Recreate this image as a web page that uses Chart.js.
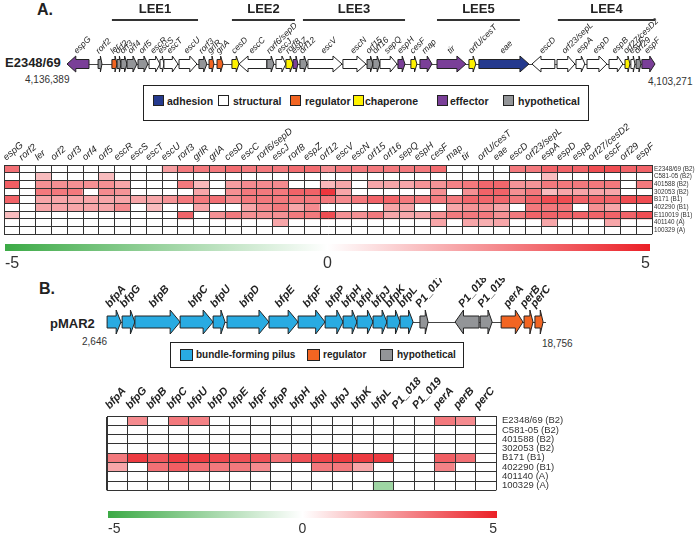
<!DOCTYPE html>
<html>
<head>
<meta charset="utf-8">
<script src="https://cdn.jsdelivr.net/npm/chart.js@4.4.0/dist/chart.umd.min.js"></script>
<style>
  body { margin: 0; width: 696px; height: 539px; position: relative; background: #fff; overflow: hidden;
         font-family: "Liberation Sans", Arial, sans-serif; color: #333; }
  canvas { position: absolute; left: 0; }
  .t { position: absolute; white-space: nowrap; }
  .b { font-weight: bold; color: #222; }
  .legend { position: absolute; border: 1.5px solid #222; box-sizing: border-box; }
  .sw { position: absolute; width: 11px; height: 11px; border: 1px solid #222; box-sizing: border-box; }
  .lt { position: absolute; font-weight: bold; color: #222; white-space: nowrap; }
</style>
</head>
<body>

<div class="t b" style="left:37px;top:0;font-size:16px;line-height:20px">A.</div>
<div class="t b" style="left:5px;top:55px;font-size:13px;line-height:16px">E2348/69</div>
<div class="t" style="left:25px;top:74px;font-size:10px;line-height:12px">4,136,389</div>
<div class="t" style="left:648px;top:76px;font-size:10px;line-height:12px">4,103,271</div>
<canvas id="mapA" width="696" height="84" style="top:0"></canvas>

<div class="legend" style="left:143px;top:85px;width:446px;height:36px">
  <div class="sw" style="left:9px;top:9px;background:#253a8e"></div><div class="lt" style="left:23px;top:8px;font-size:10.5px;line-height:14px">adhesion</div>
  <div class="sw" style="left:74px;top:9px;background:#fff"></div><div class="lt" style="left:89px;top:8px;font-size:10.5px;line-height:14px">structural</div>
  <div class="sw" style="left:146px;top:9px;background:#f26522"></div><div class="lt" style="left:161px;top:8px;font-size:10.5px;line-height:14px">regulator</div>
  <div class="sw" style="left:209px;top:9px;background:#fff200"></div><div class="lt" style="left:221px;top:8px;font-size:10.5px;line-height:14px">chaperone</div>
  <div class="sw" style="left:293px;top:9px;background:#7a3f98"></div><div class="lt" style="left:306px;top:8px;font-size:10.5px;line-height:14px">effector</div>
  <div class="sw" style="left:359px;top:9px;background:#939598"></div><div class="lt" style="left:374px;top:8px;font-size:10.5px;line-height:14px">hypothetical</div>
</div>

<canvas id="heatA" width="696" height="118" style="top:122px"></canvas>
<canvas id="barA" width="696" height="36" style="top:240px"></canvas>

<div class="t b" style="left:39px;top:279px;font-size:16px;line-height:20px">B.</div>
<div class="t b" style="left:50px;top:316px;font-size:13px;line-height:16px">pMAR2</div>
<div class="t" style="left:82px;top:336px;font-size:10px;line-height:12px">2,646</div>
<div class="t" style="left:542px;top:338px;font-size:10px;line-height:12px">18,756</div>
<canvas id="mapB" width="696" height="62" style="top:278px"></canvas>

<div class="legend" style="left:170px;top:342px;width:294px;height:26px">
  <div class="sw" style="left:9px;top:6px;width:13px;height:12px;background:#29abe2"></div><div class="lt" style="left:25px;top:5px;font-size:10px;line-height:14px">bundle-forming pilus</div>
  <div class="sw" style="left:136px;top:6px;width:13px;height:12px;background:#f26522"></div><div class="lt" style="left:152px;top:5px;font-size:10px;line-height:14px">regulator</div>
  <div class="sw" style="left:209px;top:6px;width:13px;height:12px;background:#939598"></div><div class="lt" style="left:226px;top:5px;font-size:10px;line-height:14px">hypothetical</div>
</div>

<canvas id="heatB" width="696" height="130" style="top:372px"></canvas>
<canvas id="barB" width="696" height="33" style="top:506px"></canvas>

<script>
// ---------- Panel A: LEE island gene map (kb from the espG end) ----------
const leeGenes = ['espG','rorf2','ler','orf2','orf3','orf4','orf5','escR','escS','escT','escU','rorf3','grlR','grlA',
  'cesD','escC','rorf6/sepD','escJ','rorf8','espZ','orf12','escV','escN','orf15','orf16','sepQ','espH','cesF','map',
  'tir','orfU/cesT','eae','escD','orf23/sepL','espA','espD','espB','orf27/cesD2','escF','orf29','espF'];
const leeStart = [0.00,1.75,2.53,2.82,3.04,3.38,4.00,4.62,5.24,5.46,6.31,7.43,8.00,8.45,9.29,9.69,11.26,11.77,12.33,12.73,
  13.12,13.57,15.54,16.90,17.23,17.63,18.64,19.37,19.88,20.84,22.64,23.20,26.19,27.60,28.67,29.29,30.53,31.43,31.76,32.05,32.38];
const leeEnd = [1.24,1.97,2.82,3.04,3.38,3.94,4.56,5.24,5.46,6.25,7.32,7.88,8.28,8.79,9.69,11.26,11.66,12.33,12.73,13.01,
  13.52,15.49,16.84,17.23,17.63,18.59,19.04,19.71,20.56,22.47,23.03,26.02,27.48,28.61,29.17,30.41,31.31,31.71,31.99,32.33,33.12];
const leeType = ['effector','hypothetical','regulator','hypothetical','hypothetical','hypothetical','hypothetical',
  'structural','structural','structural','structural','hypothetical','regulator','regulator','chaperone','structural',
  'hypothetical','structural','chaperone','effector','hypothetical','structural','structural','hypothetical','hypothetical',
  'structural','effector','chaperone','effector','effector','chaperone','adhesion','structural','structural','structural',
  'structural','structural','chaperone','structural','hypothetical','effector'];
const leeDir = leeGenes.map(g => (g === 'espG' || g === 'escC' || g === 'escD') ? -1 : 1);

// operons drawn as brackets above the map
const operons = ['LEE1','LEE2','LEE3','LEE5','LEE4'];
const operonFrom = [2.53, 9.29, 13.29, 20.84, 27.65];
const operonTo = [7.38, 12.84, 19.04, 25.51, 33.12];

// ---------- Panel A heatmap ----------
const strainsA = ['E2348/69 (B2)','C581-05 (B2)','401588 (B2)','302053 (B2)','B171 (B1)','402290 (B1)','E110019 (B1)','401140 (A)','100329 (A)'];
const heatA = [
  [3.2,0,0,0,0,0,0,0,0,0,2.2,3,3,3,3.3,3,3,3,3.3,3.3,2.6,3,3,3,3,3,3,3.3,0,0,0,0,3,3,3.5,3.5,3.5,4,4,3.5,3.5],
  [0,0,1.5,0,0,0,1.5,0,0,0,0,0,0,0,0,0,0,0,0,0,0,0,0,0,0,0,0,0,0,0,0,0,0,0,1.5,0,0,0,0,0,0],
  [3.6,0,2.5,2.5,2.5,2.5,2.5,2,0,0,0,3,1.6,0,2.2,2.6,2.6,2.6,0,0,1.6,2,0,2,2,2,2.4,2.4,2.8,3,3.4,3.4,2.4,2.4,3,3,3,3,3,0,3],
  [0,0,3,3,3,0,2.6,2.4,0,0,0,0,2,0,2.5,3,3,3,3.5,3.5,4.5,2,0,0,0,0,0,2.5,0,2.5,3.5,3.5,2.5,3,1.5,2,2,2,2,0,0],
  [3.5,0,2,2,2,2,2,2,2,2,2.4,3,3,3.2,2.6,3,3,3,3,3,3,2.6,3,3.5,3.5,3,3,3,3,3.4,3.4,3.4,3,3.5,4,4,3.5,3.5,3.5,4,4],
  [0,0,2,2,2,2,2,2.6,0,1.5,0,0,2,0,0,2,2.6,3,2,2.6,0,0,0,0,2,2,0,0,2,2.4,2.4,2,0,3,3,3,0,2.5,2,0,0],
  [1.5,0,0,0,0,0,0,0,0,0,0,3.5,0,2.5,3,2.5,2.5,2.5,3,3,4,2.5,2.5,3,2,2,2,2.5,3,3,3,2.5,3,3.5,3.5,3.5,3.5,3.5,3.5,3.5,4],
  [0,0,0,0,0,0,0,0,0,0,0,0,0,0,0,0,0,2,0,0,0,0,0,0,0,0,0,2,0,2,1.8,2,0,0,2,0,0,0,2,0,0],
  [0,0,0,0,0,0,0,0,0,0,0,0,0,0,0,0,0,0,0,0,0,0,0,0,0,0,0,0,0,0,0,0,0,0,0,0,0,0,0,0,0]
];

// ---------- Panel B: pMAR2 gene map (kb) ----------
const pmarGenes = ['bfpA','bfpG','bfpB','bfpC','bfpU','bfpD','bfpE','bfpF','bfpP','bfpH','bfpI','bfpJ','bfpK','bfpL',
  'P1_017','P1_018','P1_019','perA','perB','perC'];
const pmarStart = [2.65,3.20,3.67,5.33,6.54,7.05,8.59,9.66,10.65,11.31,11.82,12.41,12.92,13.40,14.13,15.42,16.34,17.11,17.95,18.35];
const pmarEnd = [3.16,3.67,5.33,6.54,6.98,8.59,9.66,10.65,11.31,11.82,12.41,12.92,13.40,13.88,14.43,16.30,16.78,17.91,18.28,18.65];
const pmarType = pmarGenes.map(g => g.startsWith('bfp') ? 'pilus' : g.startsWith('per') ? 'regulator' : 'hypothetical');
const pmarDir = pmarGenes.map(g => g === 'P1_018' ? -1 : 1);

// ---------- Panel B heatmap ----------
const colsB = ['bfpA','bfpG','bfpB','bfpC','bfpU','bfpD','bfpE','bfpF','bfpP','bfpH','bfpI','bfpJ','bfpK','bfpL',
  'P1_018','P1_019','perA','perB','perC'];
const strainsB = ['E2348/69 (B2)','C581-05 (B2)','401588 (B2)','302053 (B2)','B171 (B1)','402290 (B1)','401140 (A)','100329 (A)'];
const heatB = [
  [0,2.6,0,3,2.8,0,0,0,0,0,0,0,0,0,0,0,3,2.6,0],
  [0,0,0,0,0,0,0,0,0,0,0,0,0,0,0,0,0,0,0],
  [0,0,0,0,0,0,0,0,0,0,0,0,0,0,0,0,0,0,0],
  [0,0,0,0,0,0,0,0,0,0,0,0,0,0,0,0,0,0,0],
  [3,4.4,3.8,4.4,4.4,4.1,3.9,3.9,3.2,3.9,4.2,4.4,4.4,4.4,0,0,3.6,3.2,0],
  [2,0,3.2,3.6,3.2,3,3,2.6,0,0,3,3,2,0,0,0,2.8,0,0],
  [0,0,0,0,0,0,0,0,0,0,0,0,0,0,0,0,0,0,0],
  [0,0,0,0,0,0,0,0,0,0,0,0,0,-2.5,0,0,0,0,0]
];

// colour bar ticks
const barTicks = [-5, 0, 5];

const typeColors = {
  adhesion: '#253a8e', structural: '#ffffff', regulator: '#f26522', chaperone: '#fff200',
  effector: '#7a3f98', hypothetical: '#939598', pilus: '#29abe2'
};

Chart.defaults.font.family = '"Liberation Sans", Arial, sans-serif';
Chart.defaults.color = '#333';

// map -5..5 to green / white / red
function heatColor(v) {
  if (v >= 0) {
    const t = Math.min(v, 5) / 5;
    return `rgb(${Math.round(255 - 20 * t)},${Math.round(255 - 223 * t)},${Math.round(255 - 216 * t)})`;
  }
  const t = Math.min(-v, 5) / 5;
  return `rgb(${Math.round(255 - 195 * t)},${Math.round(255 - 85 * t)},${Math.round(255 - 185 * t)})`;
}

// Plugin that draws genes as arrows along the x scale
function genePlugin(g) {
  return {
    id: 'genes',
    afterDatasetsDraw(chart) {
      const ctx = chart.ctx;
      const xs = chart.scales.x;
      const cy = Math.round(chart.scales.y.getPixelForValue(0));
      ctx.save();
      // backbone
      ctx.strokeStyle = '#444';
      ctx.lineWidth = 1;
      ctx.beginPath();
      ctx.moveTo(xs.getPixelForValue(g.from), cy + 0.5);
      ctx.lineTo(xs.getPixelForValue(g.to), cy + 0.5);
      ctx.stroke();

      g.names.forEach((name, i) => {
        const a = xs.getPixelForValue(g.starts[i]);
        const b = xs.getPixelForValue(g.ends[i]);
        const h = Math.min(g.headLen, (b - a) * g.headFrac);
        ctx.beginPath();
        if (g.dirs[i] > 0) {
          ctx.moveTo(a, cy - g.body); ctx.lineTo(b - h, cy - g.body); ctx.lineTo(b - h, cy - g.head);
          ctx.lineTo(b, cy); ctx.lineTo(b - h, cy + g.head); ctx.lineTo(b - h, cy + g.body); ctx.lineTo(a, cy + g.body);
        } else {
          ctx.moveTo(b, cy - g.body); ctx.lineTo(a + h, cy - g.body); ctx.lineTo(a + h, cy - g.head);
          ctx.lineTo(a, cy); ctx.lineTo(a + h, cy + g.head); ctx.lineTo(a + h, cy + g.body); ctx.lineTo(b, cy + g.body);
        }
        ctx.closePath();
        ctx.fillStyle = typeColors[g.types[i]];
        ctx.fill();
        ctx.strokeStyle = '#222';
        ctx.lineWidth = 1;
        ctx.stroke();

        // rotated gene name
        ctx.save();
        ctx.translate((a + b) / 2 + g.labelDx, cy - g.head - 2);
        ctx.rotate(-g.angle * Math.PI / 180);
        ctx.font = g.font;
        ctx.fillStyle = '#222';
        ctx.textAlign = 'left';
        ctx.textBaseline = 'alphabetic';
        ctx.fillText(name, 0, 0);
        ctx.restore();
      });

      // operon brackets
      (g.operons || []).forEach((op, i) => {
        const a = xs.getPixelForValue(g.opFrom[i]);
        const b = xs.getPixelForValue(g.opTo[i]);
        ctx.strokeStyle = '#333';
        ctx.lineWidth = 2;
        ctx.beginPath();
        ctx.moveTo(a, 20); ctx.lineTo(b, 20);
        ctx.stroke();
        ctx.font = 'bold 13px "Liberation Sans", Arial, sans-serif';
        ctx.fillStyle = '#222';
        ctx.textAlign = 'center';
        ctx.textBaseline = 'middle';
        ctx.fillText(op, (a + b) / 2, 9);
      });
      ctx.restore();
    }
  };
}

function geneMap(id, g, padding) {
  new Chart(document.getElementById(id), {
    type: 'scatter',
    data: { datasets: [{ data: g.names.map((n, i) => ({ x: (g.starts[i] + g.ends[i]) / 2, y: 0 })), pointRadius: 0 }] },
    options: {
      responsive: false, animation: false, events: [], devicePixelRatio: 1,
      layout: { padding: padding },
      plugins: { legend: { display: false }, tooltip: { enabled: false } },
      scales: {
        x: { type: 'linear', min: g.from, max: g.to, display: false },
        y: { type: 'linear', min: -1, max: 1, display: false }
      }
    },
    plugins: [genePlugin(g)]
  });
}

function heatmap(id, cols, rows, values, o) {
  new Chart(document.getElementById(id), {
    type: 'bar',
    data: {
      labels: cols,
      datasets: rows.map((r, i) => ({
        label: r,
        data: cols.map(() => 1),
        backgroundColor: values[i].map(heatColor),
        borderWidth: 0,
        barPercentage: 1,
        categoryPercentage: 1
      }))
    },
    options: {
      responsive: false, animation: false, events: [], devicePixelRatio: 1,
      layout: { padding: o.padding },
      plugins: { legend: { display: false }, tooltip: { enabled: false } },
      scales: {
        x: {
          stacked: true, position: 'top',
          grid: { offset: true, color: '#333', drawTicks: false, z: 1 },
          border: { color: '#333', z: 1 },
          ticks: { autoSkip: false, minRotation: o.rot, maxRotation: o.rot, font: o.colFont, color: '#222', padding: o.colPad },
          afterFit: s => { s.height = o.top; }
        },
        y: {
          stacked: true, reverse: true, min: 0, max: rows.length,
          grid: { color: '#333', drawTicks: false, z: 1 },
          border: { color: '#333', z: 1 },
          ticks: { display: false, stepSize: 1 },
          afterFit: s => { s.width = 0; }
        },
        rows: {
          type: 'category', axis: 'y', labels: rows, position: 'right', offset: true,
          grid: { display: false, drawTicks: false },
          border: { display: false },
          ticks: { font: o.rowFont, color: '#333', padding: o.rowPad, autoSkip: false },
          afterFit: s => { s.width = o.right; }
        }
      }
    }
  });
}

function colorBar(id, o) {
  new Chart(document.getElementById(id), {
    type: 'bar',
    data: {
      labels: [''],
      datasets: [{
        data: [[barTicks[0], barTicks[barTicks.length - 1]]],
        backgroundColor: c => {
          const ch = c.chart;
          if (!ch.chartArea) return '#fff';
          const x = ch.scales.x;
          const gr = ch.ctx.createLinearGradient(x.getPixelForValue(-5), 0, x.getPixelForValue(5), 0);
          gr.addColorStop(0, heatColor(-5));
          gr.addColorStop(0.5, '#ffffff');
          gr.addColorStop(1, heatColor(5));
          return gr;
        },
        borderWidth: 0, barPercentage: 1, categoryPercentage: 1
      }]
    },
    options: {
      indexAxis: 'y',
      responsive: false, animation: false, events: [], devicePixelRatio: 1,
      layout: { padding: o.padding },
      plugins: { legend: { display: false }, tooltip: { enabled: false } },
      scales: {
        x: {
          type: 'linear', min: -5, max: 5,
          grid: { display: false, drawTicks: false }, border: { display: false },
          afterBuildTicks: s => { s.ticks = barTicks.map(v => ({ value: v })); },
          ticks: { align: 'inner', font: o.font, color: '#333', padding: o.pad },
          afterFit: s => { s.height = o.axisH; }
        },
        y: { display: false }
      }
    }
  });
}

geneMap('mapA', {
  names: leeGenes, starts: leeStart, ends: leeEnd, types: leeType, dirs: leeDir,
  from: 0, to: 33.12, body: 4.5, head: 8, headLen: 9, headFrac: 0.4, angle: 45, labelDx: -1,
  font: 'italic 8.5px "Liberation Sans", Arial, sans-serif',
  operons: operons, opFrom: operonFrom, opTo: operonTo
}, { left: 67, right: 41, top: 54, bottom: 10 });

heatmap('heatA', leeGenes, strainsA, heatA, {
  padding: { left: 4, top: 0, bottom: 5, right: 0 }, top: 43, right: 44, rot: 40,
  colFont: { size: 9.5, style: 'italic' }, colPad: 2,
  rowFont: { size: 6.3 }, rowPad: 2
});

colorBar('barA', { padding: { left: 5, right: 46, top: 4 }, axisH: 25, font: { size: 16 }, pad: 3 });

geneMap('mapB', {
  names: pmarGenes, starts: pmarStart, ends: pmarEnd, types: pmarType, dirs: pmarDir,
  from: 2.646, to: 18.756, body: 6, head: 12, headLen: 10, headFrac: 0.35, angle: 50, labelDx: -4,
  font: 'bold italic 11px "Liberation Sans", Arial, sans-serif'
}, { left: 107, right: 150, top: 36, bottom: 10 });

heatmap('heatB', colsB, strainsB, heatB, {
  padding: { left: 107, top: 0, bottom: 2, right: 0 }, top: 44, right: 200, rot: 48,
  colFont: { size: 11, style: 'italic', weight: 'bold' }, colPad: 4,
  rowFont: { size: 9.5 }, rowPad: 6
});

colorBar('barB', { padding: { left: 108, right: 199, top: 5 }, axisH: 21, font: { size: 14 }, pad: 3 });
</script>
</body>
</html>
